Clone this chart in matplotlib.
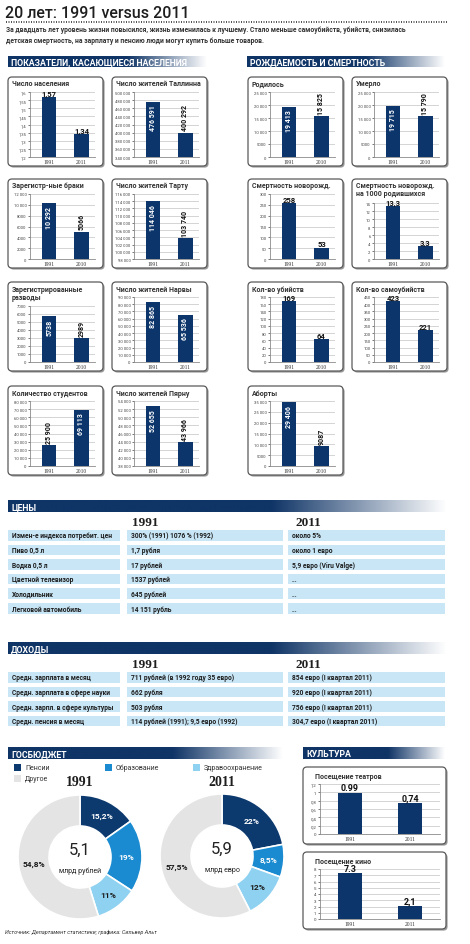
import numpy as np
import matplotlib
matplotlib.use("Agg")
import matplotlib.pyplot as plt
from matplotlib.patches import FancyBboxPatch, Rectangle
from matplotlib.colors import to_rgb

plt.rcParams['font.family'] = ['Roboto', 'DejaVu Sans']

W, H = 470, 945

# ---------- data ----------
title = "20 лет: 1991 versus 2011"
intro = ("За двадцать лет уровень жизни повысился, жизнь изменилась к лучшему. Стало меньше самоубийств, убийств, снизилась\n"
         "детская смертность, на зарплату и пенсию люди могут купить больше товаров.")

pop_header = "ПОКАЗАТЕЛИ, КАСАЮЩИЕСЯ НАСЕЛЕНИЯ"
vital_header = "РОЖДАЕМОСТЬ И СМЕРТНОСТЬ"

chart_titles = ["Число населения", "Число жителей Таллинна",
                "Зарегистр-ные браки", "Число жителей Тарту",
                "Зарегистрированные\nразводы", "Число жителей Нарвы",
                "Количество студентов", "Число жителей Пярну",
                "Родилось", "Умерло",
                "Смертность новорожд.", "Смертность новорожд.\nна 1000 родившихся",
                "Кол-во убийств", "Кол-во самоубийств",
                "Аборты"]
chart_years = [("1991", "2011"), ("1991", "2011"),
               ("1991", "2010"), ("1991", "2011"),
               ("1991", "2010"), ("1991", "2011"),
               ("1991", "2010"), ("1991", "2011"),
               ("1991", "2010"), ("1991", "2010"),
               ("1991", "2010"), ("1991", "2010"),
               ("1991", "2010"), ("1991", "2010"),
               ("1991", "2010")]
chart_values = [(1.57, 1.34), (476591, 400292),
                (10292, 5066), (114046, 103740),
                (5738, 2989), (82865, 65536),
                (25900, 69113), (52655, 43966),
                (19413, 15825), (19715, 15790),
                (258, 53), (13.3, 3.3),
                (169, 64), (423, 221),
                (29406, 9087)]
# y axis: (low, high, step)
chart_ticks = [(1.2, 1.6, 0.05), (340000, 500000, 20000),
               (0, 12000, 2000), (98000, 116000, 2000),
               (0, 7000, 1000), (0, 90000, 10000),
               (0, 80000, 10000), (38000, 54000, 2000),
               (0, 25000, 5000), (0, 25000, 5000),
               (0, 300, 50), (0, 14, 2),
               (0, 180, 20), (0, 450, 50),
               (0, 30000, 5000)]
abort_ticklabels = ["0", "5000", "10 000", "15 000", "20 000", "25 000", "35 000"]

prices_header = "ЦЕНЫ"
prices_rows = ["Измен-е индекса потребит. цен", "Пиво 0,5 л", "Водка 0,5 л",
               "Цветной телевизор", "Холодильник", "Легковой автомобиль"]
prices_1991 = ["300% (1991) 1076 % (1992)", "1,7 рубля", "17 рублей",
               "1537 рублей", "645 рублей", "14 151 рубль"]
prices_2011 = ["около 5%", "около 1 евро", "5,9 евро (Viru Valge)", "...", "...", "..."]

income_header = "ДОХОДЫ"
income_rows = ["Средн. зарплата в месяц", "Средн. зарплата в сфере науки",
               "Средн. зарпл. в сфере культуры", "Средн. пенсия в месяц"]
income_1991 = ["711 рублей (в 1992 году 35 евро)", "662 рубля", "503 рубля",
               "114 рублей (1991); 9,5 евро (1992)"]
income_2011 = ["854 евро (I квартал 2011)", "920 евро (I квартал 2011)",
               "756 евро (I квартал 2011)", "304,7 евро (I квартал 2011)"]
table_years = ["1991", "2011"]

budget_header = "ГОСБЮДЖЕТ"
budget_labels = ["Пенсии", "Образование", "Здравоохранение", "Другое"]
budget_years = ["1991", "2011"]
budget_1991 = [15.2, 19, 11, 54.8]
budget_2011 = [22, 8.5, 12, 57.5]
budget_totals = ["5,1", "5,9"]
budget_units = ["млрд рублей", "млрд евро"]

culture_header = "КУЛЬТУРА"
culture_titles = ["Посещение театров", "Посещение кино"]
culture_years = ["1991", "2011"]
theatre_values = [0.99, 0.74]
theatre_labels = ["0.99", "0,74"]
cinema_values = [7.3, 2.1]
cinema_labels = ["7.3", "2,1"]
culture_ticks = [(0, 1.2, 0.2), (0, 8, 1)]

source = "Источник: Департамент статистики; графика: Сильвер Альт"

# ---------- style ----------
NAVY = "#0b356b"
HEAD = "#0f3466"
CELL = "#c8e6f6"
pie_colors = ["#0d3a6e", "#1a8bd0", "#8fd1f0", "#e4e4e4"]
pie_text = ["white", "white", "#1a1a1a", "#1a1a1a"]


def fmt(v):
    v = round(float(v), 6)
    if v == int(v):
        n = int(v)
        return f"{n:,}".replace(",", " ") if abs(n) >= 10000 else str(n)
    return f"{v:g}".replace(".", ",")


fig = plt.figure(figsize=(W / 100, H / 100), dpi=100)
bg = fig.add_axes([0, 0, 1, 1])
bg.axis("off")


def px_axes(x, y, w, h):
    return fig.add_axes([x / W, 1 - (y + h) / H, w / W, h / H])


def header(x0, x1, y0, y1, text):
    t = np.linspace(0, 1, 300)
    f = np.clip((t - 0.6) / 0.4, 0, 1)[:, None]
    rgb = np.array(to_rgb(HEAD))[None, :] * (1 - f) + f
    bg.imshow(rgb[None], extent=[x0, x1, y1, y0], aspect="auto", interpolation="bilinear")
    bg.text(x0 + 3, (y0 + y1) / 2 + 0.5, text, color="white", weight="bold",
            fontsize=6.3, va="center")


def box(x, y, w, h):
    bg.add_patch(FancyBboxPatch((x + 1.6, y + 1.6), w, h, boxstyle="round,pad=0,rounding_size=4",
                                fc="#9a9a9a", ec="none"))
    bg.add_patch(FancyBboxPatch((x, y), w, h, boxstyle="round,pad=0,rounding_size=4",
                                fc="white", ec="#5a5a5a", lw=0.9))


def style_axes(ax, years, lo, hi, step, ticklabels=None, tsize=3.0):
    ax.patch.set_visible(False)
    ax.set_ylim(lo, hi)
    yt = np.arange(lo, hi + step / 2, step)
    ax.set_yticks(yt)
    ax.set_yticklabels(ticklabels if ticklabels else [fmt(v) for v in yt])
    ax.set_xticks([0, 1])
    ax.set_xticklabels(years, family=["Liberation Serif"])
    ax.yaxis.grid(True, color="#c4c4c4", lw=0.5)
    ax.set_axisbelow(True)
    for s in ["top", "right"]:
        ax.spines[s].set_visible(False)
    for s in ["left", "bottom"]:
        ax.spines[s].set_color("#8a8a8a")
        ax.spines[s].set_linewidth(0.6)
    ax.tick_params(axis="y", length=1.5, width=0.5, pad=1, labelsize=tsize, colors="#444")
    ax.tick_params(axis="x", length=0, pad=1.5, labelsize=4.0, colors="#333")


def bar_chart(bx, by, ttl, years, values, ticks, ticklabels=None):
    bw, bh = 95, 89
    box(bx, by, bw, bh)
    bg.text(bx + 4, by + 2.5, ttl, va="top", fontsize=5, weight="bold", color="#333",
            linespacing=1.0)
    top = by + (24 if "\n" in ttl else 15)
    ax = px_axes(bx + 22, top, bw - 30, by + 80 - top)
    lo, hi, step = ticks
    ax.bar([0, 1], values, width=0.44, color=NAVY, zorder=2)
    ax.set_xlim(-0.6, 1.42)
    style_axes(ax, years, lo, hi, step, ticklabels)
    for i, v in enumerate(values):
        s = fmt(v)
        frac = (v - lo) / (hi - lo)
        if v >= 1000:
            if frac > 0.68:
                ax.annotate(s, (i, v), xytext=(0, -2), textcoords="offset points", rotation=90,
                            ha="center", va="top", color="white", fontsize=5, weight="bold")
            else:
                ax.annotate(s, (i, v), xytext=(0, 1.5), textcoords="offset points", rotation=90,
                            ha="center", va="bottom", color="#111", fontsize=5, weight="bold",
                            annotation_clip=False)
        else:
            ax.annotate(s, (i, v), xytext=(0, 0.2), textcoords="offset points",
                        ha="center", va="bottom", color="#111", fontsize=5.5, weight="bold",
                        annotation_clip=False)


# ---------- title ----------
bg.text(5, 13, title, fontsize=11.5, weight="medium", color="#1e1e1e", va="center")
bg.plot([6, 448], [22.5, 22.5], ls=(0, (0.6, 0.9)), lw=1.2, color="#333")
bg.text(6, 26.5, intro, fontsize=4.9, weight="bold", color="#333", va="top", linespacing=1.35)

# ---------- bar chart grid ----------
header(8, 207, 57, 68, pop_header)
header(247, 445, 57, 68, vital_header)
col_x = [8, 112, 248, 352]
row_y = [78, 180, 283, 387]
slots = [(0, 0), (1, 0), (0, 1), (1, 1), (0, 2), (1, 2), (0, 3), (1, 3),
         (2, 0), (3, 0), (2, 1), (3, 1), (2, 2), (3, 2), (2, 3)]
for k, (c, r) in enumerate(slots):
    tl = abort_ticklabels if chart_titles[k] == "Аборты" else None
    bar_chart(col_x[c], row_y[r], chart_titles[k], chart_years[k], chart_values[k],
              chart_ticks[k], tl)

# ---------- tables ----------
cells_x = [(8, 120), (127, 283), (288, 445)]


def table(y_head, y_years, y_rows, head, rows, c1, c2):
    header(8, 447, y_head, y_head + 12, head)
    bg.text(132, y_years, table_years[0], fontsize=9.5, weight="bold",
            family=["Liberation Serif"], color="#1e1e1e", va="center")
    bg.text(295, y_years, table_years[1], fontsize=9.5, weight="bold",
            family=["Liberation Serif"], color="#1e1e1e", va="center")
    for i, row in enumerate(zip(rows, c1, c2)):
        y = y_rows + i * 14.6
        for (x0, x1), txt in zip(cells_x, row):
            bg.add_patch(Rectangle((x0, y), x1 - x0, 10.5, fc=CELL, ec="none"))
            bg.text(x0 + 4, y + 5.5, txt, fontsize=4.8, weight="bold", color="#1e1e1e",
                    va="center")


table(501, 523, 531, prices_header, prices_rows, prices_1991, prices_2011)
table(643, 665, 673, income_header, income_rows, income_1991, income_2011)

# ---------- budget donuts ----------
header(8, 283, 748, 760, budget_header)
legend_pos = [(14, 765), (105, 765), (193, 765), (14, 776)]
for (lx, ly), lab, col in zip(legend_pos, budget_labels, pie_colors):
    bg.add_patch(Rectangle((lx, ly), 7, 6.5, fc=col, ec="none"))
    bg.text(lx + 11, ly + 3.5, lab, fontsize=5, color="#333", va="center")


def pct(p):
    return fmt(round(p, 1)) + "%"


for (cx, cy), vals, yr, tot, unit in zip([(80, 858), (222, 857)],
                                         [budget_1991, budget_2011],
                                         budget_years, budget_totals, budget_units):
    ax = px_axes(cx - 62, cy - 62, 124, 124)
    wedges, texts, autotexts = ax.pie(vals, colors=pie_colors, startangle=90, counterclock=False,
                                      radius=1, autopct=pct, pctdistance=0.75,
                                      wedgeprops=dict(width=0.5, edgecolor="white", linewidth=1.2),
                                      textprops=dict(fontsize=6, weight="bold"))
    for t, c in zip(autotexts, pie_text):
        t.set_color(c)
    ax.set_xlim(-1, 1)
    ax.set_ylim(-1, 1)
    ax.text(0, 0.12, tot, ha="center", va="center", fontsize=12, color="#222")
    ax.text(0, -0.22, unit, ha="center", va="center", fontsize=5, color="#222")
    bg.text(cx, 783, yr, ha="center", va="center", fontsize=10, weight="bold",
            family=["Liberation Serif"], color="#1e1e1e")

# ---------- culture ----------
header(303, 445, 748, 760, culture_header)
for (by, ttl, vals, labs, ticks) in zip([768, 853], culture_titles,
                                       [theatre_values, cinema_values],
                                       [theatre_labels, cinema_labels], culture_ticks):
    bx, bw, bh = 303, 143, 77
    box(bx, by, bw, bh)
    bg.text(bx + 12, by + 9, ttl, fontsize=5, weight="bold", color="#333", va="center")
    ax = px_axes(bx + 17, by + 17, bw - 23, bh - 27)
    ax.bar([0, 1], vals, width=0.4, color=NAVY, zorder=2)
    ax.set_xlim(-0.5, 1.5)
    lo, hi, step = ticks
    style_axes(ax, culture_years, lo, hi, step, tsize=3.2)
    for i, (v, s) in enumerate(zip(vals, labs)):
        ax.annotate(s, (i, v), xytext=(0, 0.5), textcoords="offset points", ha="center",
                    va="bottom", fontsize=6.5, weight="bold", color="#111", annotation_clip=False)

bg.text(5, 932, source, fontsize=4, style="italic", color="#333", va="center")

bg.set_xlim(0, W)
bg.set_ylim(H, 0)
fig.savefig("out.png", dpi=100)
